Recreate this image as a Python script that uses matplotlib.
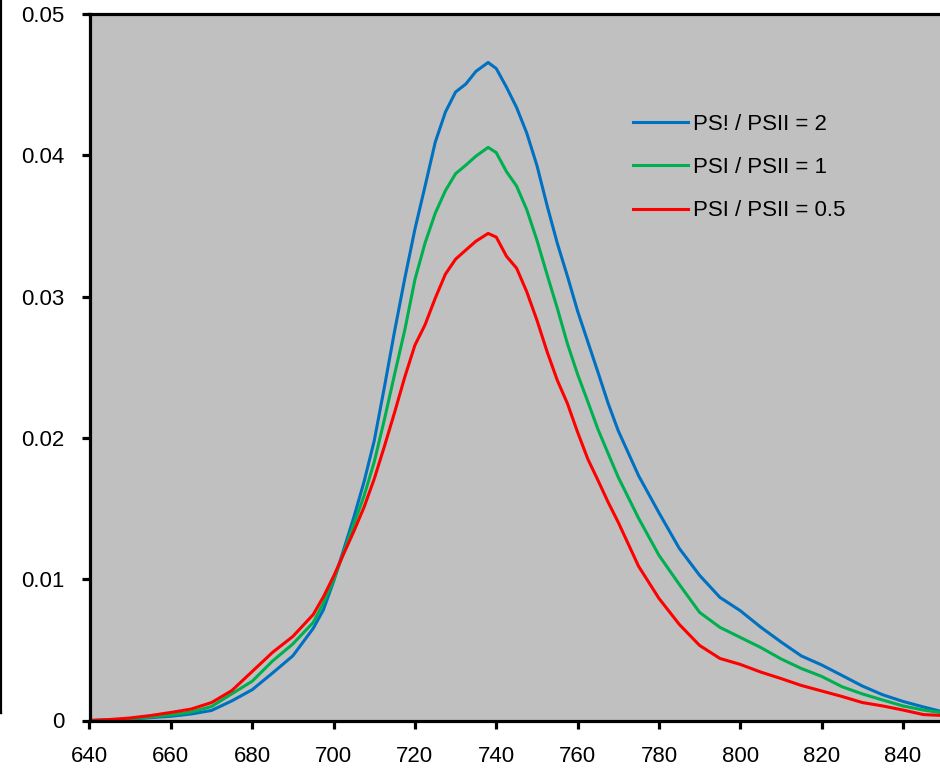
import matplotlib
matplotlib.use("Agg")
import matplotlib.pyplot as plt

plt.rcParams['font.family'] = ['Liberation Sans', 'DejaVu Sans']

wavelength = [640, 645, 650, 655, 660, 665, 670, 675, 680, 685, 690, 695, 697.5, 700,
              702.5, 705, 707.5, 710, 712.5, 715, 717.5, 720, 722.5, 725, 727.5, 730,
              732.5, 735, 738, 740, 742.5, 745, 747.5, 750, 752.5, 755, 757.5, 760,
              762.5, 765, 767.5, 770, 775, 780, 785, 790, 795, 800, 805, 810, 815, 820,
              825, 830, 835, 840, 845, 850]

ps_ratio_2 = [0.0, 0.00004, 0.0001, 0.0002, 0.0003, 0.00046, 0.00071, 0.00139, 0.00218,
              0.00336, 0.00458, 0.00652, 0.00783, 0.00984,
              0.0121, 0.0144, 0.0169, 0.0198, 0.0236, 0.02755, 0.03127, 0.03477,
              0.03782, 0.04093, 0.04306, 0.04448, 0.04504, 0.04594, 0.04657, 0.04614,
              0.04483, 0.04338, 0.04157, 0.03928, 0.03644, 0.03378, 0.03144, 0.02897,
              0.02681, 0.02465, 0.02245, 0.0205, 0.01732, 0.0147, 0.01218, 0.01027,
              0.00871, 0.00777, 0.00661, 0.00556, 0.00457, 0.00393, 0.00319, 0.00244,
              0.00182, 0.00135, 0.00096, 0.0006]

ps_ratio_1 = [0.0, 0.00004, 0.0001, 0.00025, 0.00039, 0.0006, 0.00099, 0.00189, 0.00278,
              0.00421, 0.00542, 0.00694, 0.00831, 0.00992,
              0.0119, 0.0139, 0.0159, 0.0183, 0.0213, 0.0245, 0.02762, 0.0312,
              0.0338, 0.0359, 0.0375, 0.0387, 0.0393, 0.03994, 0.04056, 0.04019,
              0.03885, 0.03782, 0.03615, 0.03399, 0.03155, 0.02918, 0.02666, 0.0245,
              0.02257, 0.02061, 0.0189, 0.01721, 0.01431, 0.01169, 0.00963, 0.00765,
              0.00659, 0.00588, 0.00517, 0.00436, 0.00368, 0.00312, 0.00239, 0.00188,
              0.00145, 0.00103, 0.00074, 0.00053]

ps_ratio_05 = [0.0, 0.00007, 0.00018, 0.00035, 0.00057, 0.00081, 0.00127, 0.00212, 0.00347,
               0.00482, 0.00595, 0.0075, 0.00875, 0.0102,
               0.0118, 0.0134, 0.0151, 0.0171, 0.0194, 0.0218, 0.0243, 0.02656,
               0.02801, 0.02989, 0.03159, 0.03265, 0.03329, 0.03392, 0.03447, 0.03421,
               0.03286, 0.03201, 0.03034, 0.02833, 0.0261, 0.02408, 0.02243, 0.0204,
               0.01851, 0.017, 0.01545, 0.01402, 0.01091, 0.00864, 0.0068, 0.00531,
               0.00439, 0.00397, 0.00343, 0.00297, 0.00248, 0.00209, 0.0017, 0.00127,
               0.00103, 0.00074, 0.00042, 0.00035]

labels = ["PS! / PSII = 2", "PSI / PSII = 1", "PSI / PSII = 0.5"]
colors = ["#0070C0", "#00B050", "#FF0000"]
series = [ps_ratio_2, ps_ratio_1, ps_ratio_05]

x_ticks = [640, 660, 680, 700, 720, 740, 760, 780, 800, 820, 840]
y_ticks = [0, 0.01, 0.02, 0.03, 0.04, 0.05]
y_tick_labels = ["0", "0.01", "0.02", "0.03", "0.04", "0.05"]

W, H = 940, 771
fig = plt.figure(figsize=(W / 100, H / 100), dpi=100)

lw_spine = 2.3
lw_line = 2.2
fs = 16

# partial neighbouring chart on the far left (cut off)
axl = fig.add_axes([(5 - 860) / W, 59 / H, 855 / W, 1.05 - 59 / H])
axl.set_facecolor("#C0C0C0")
for s, c in zip(series, colors):
    axl.plot(wavelength, s, color=c, lw=lw_line)
axl.set_xlim(640, 850)
axl.set_ylim(0, 0.05)
for sp in axl.spines.values():
    sp.set_linewidth(lw_spine)
axl.set_xticks([])
axl.set_yticks([])

# main chart
left_px, right_px = 89.5, 943.7
top_px, bottom_px = 14, 720.5
ax = fig.add_axes([left_px / W, 1 - bottom_px / H, (right_px - left_px) / W,
                   (bottom_px - top_px) / H])
ax.set_facecolor("#C0C0C0")
for s, c, lab in zip(series, colors, labels):
    ax.plot(wavelength, s, color=c, lw=lw_line, label=lab, solid_joinstyle="round")

ax.set_xlim(640, 850)
ax.set_ylim(0, 0.05)
ax.set_xticks(x_ticks)
ax.set_xticklabels([str(t) for t in x_ticks])
ax.set_yticks(y_ticks)
ax.set_yticklabels(y_tick_labels)
for sp in ax.spines.values():
    sp.set_linewidth(lw_spine)
    sp.set_color("black")
ax.tick_params(axis="both", direction="out", length=6, width=lw_spine,
               labelsize=fs, colors="black")
ax.tick_params(axis="x", pad=12)
ax.tick_params(axis="y", pad=12)

leg = ax.legend(loc="upper left",
                bbox_to_anchor=((633 - left_px) / (right_px - left_px),
                                1 - (114 - top_px) / (bottom_px - top_px)),
                frameon=False, fontsize=fs, handlelength=2.48, handletextpad=0.22,
                labelspacing=1.0, borderaxespad=0, borderpad=0)
for line in leg.get_lines():
    line.set_linewidth(lw_line)

fig.savefig("out.png", dpi=100, facecolor="white")
